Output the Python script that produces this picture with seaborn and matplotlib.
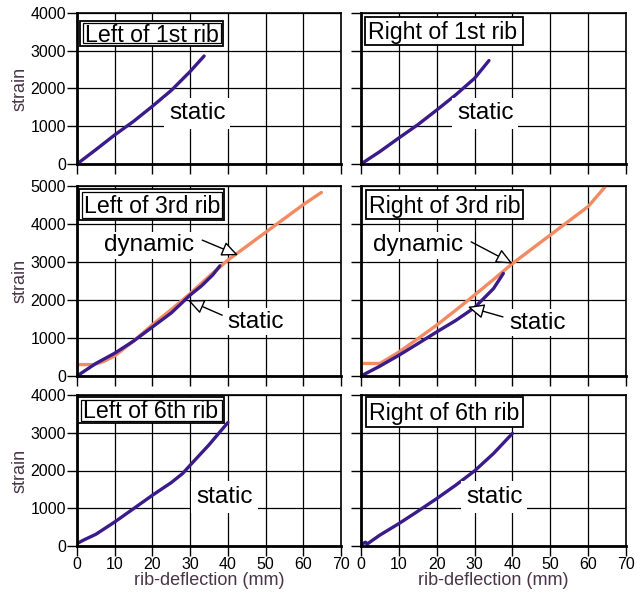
import numpy as np
import pandas as pd
import matplotlib
matplotlib.use("Agg")
import matplotlib.pyplot as plt
from matplotlib.patches import Rectangle
import seaborn as sns

# ---- data (rib-deflection mm, strain) ----
tl_x = [0, 5, 10, 15, 20, 25, 30, 33.7]
tl_y = [0, 380, 770, 1130, 1530, 1950, 2450, 2860]

tr_x = [0, 5, 10, 15, 20, 25, 30, 33.8]
tr_y = [0, 330, 690, 1040, 1430, 1830, 2270, 2740]

ml_static_x = [0, 5, 10, 15, 20, 25, 30, 33, 36, 37.9]
ml_static_y = [0, 330, 600, 920, 1290, 1660, 2130, 2370, 2660, 2900]
ml_dyn_x = [0, 4.5, 7, 10, 15, 20, 25, 30, 35, 40, 50, 60, 64.8]
ml_dyn_y = [300, 300, 380, 530, 920, 1350, 1750, 2170, 2620, 3050, 3780, 4510, 4830]

mr_static_x = [0, 5, 10, 15, 20, 25, 30, 35, 37.6]
mr_static_y = [0, 260, 545, 850, 1160, 1460, 1800, 2300, 2700]
mr_dyn_x = [0, 5, 10, 15, 20, 25, 30, 35, 40, 50, 60, 64.5]
mr_dyn_y = [330, 330, 630, 980, 1340, 1730, 2130, 2540, 2960, 3710, 4460, 4980]

bl_x = [0, 1.8, 0, 5, 10, 15, 20, 25, 28, 30, 35, 40]
bl_y = [130, 160, 0, 310, 637, 990, 1345, 1680, 1920, 2140, 2680, 3270]

br_x = [0, 1.2, 1.6, 0, 5, 10, 15, 20, 25, 30, 35, 40]
br_y = [80, 100, 50, 0, 290, 593, 920, 1256, 1610, 1990, 2450, 2982]

titles = ["Left of 1st rib", "Right of 1st rib",
          "Left of 3rd rib", "Right of 3rd rib",
          "Left of 6th rib", "Right of 6th rib"]

sns.set_style("ticks")
plt.rcParams['font.family'] = ['Liberation Sans', 'DejaVu Sans']
plt.rcParams['text.color'] = 'black'

purple = "#3b1a8a"
orange = "#f28b62"
label_col = "#4a3548"

W, H = 643, 596
fig = plt.figure(figsize=(W / 100, H / 100), dpi=100)

cols = [(77, 341), (361, 626)]
rows = [(13, 164, 4000), (186, 376, 5000), (395, 546, 4000)]

axes = []
geo = []
for r, (top, bot, ymax) in enumerate(rows):
    for c, (left, right) in enumerate(cols):
        ax = fig.add_axes([left / W, 1 - bot / H, (right - left) / W, (bot - top) / H])
        geo.append((left, top, right - left, bot - top))
        ax.set_xlim(0, 70)
        ax.set_ylim(0, ymax)
        ax.set_xticks(range(0, 71, 10))
        ax.set_yticks(range(0, ymax + 1, 1000))
        ax.grid(True, color="black", linewidth=0.9)
        for s in ax.spines.values():
            s.set_color("black")
            s.set_linewidth(1.2)
        ax.spines['bottom'].set_linewidth(2)
        ax.spines['left'].set_linewidth(2)
        ax.tick_params(direction="out", length=7, width=1, colors="black",
                       labelsize=11.5, pad=1)
        if c == 1:
            ax.set_yticklabels([])
        if r < 2:
            ax.set_xticklabels([])
        else:
            ax.set_xlabel("rib-deflection (mm)", fontsize=13, color=label_col, labelpad=0)
        if c == 0:
            ax.set_ylabel("strain", fontsize=13, color=label_col, labelpad=1)
        axes.append(ax)

static_sets = [(tl_x, tl_y), (tr_x, tr_y), (ml_static_x, ml_static_y),
               (mr_static_x, mr_static_y), (bl_x, bl_y), (br_x, br_y)]

# dynamic curves first (static drawn on top)
sns.lineplot(x=ml_dyn_x, y=ml_dyn_y, ax=axes[2], color=orange, linewidth=2.4, sort=False)
sns.lineplot(x=mr_dyn_x, y=mr_dyn_y, ax=axes[3], color=orange, linewidth=2.4, sort=False)
for ax, (xs, ys) in zip(axes, static_sets):
    sns.lineplot(x=xs, y=ys, ax=ax, color=purple, linewidth=2.4, sort=False)
    ax.set_xlim(0, 70)

# title boxes, in figure pixels (x0, y0, x1, y1), top-down
title_boxes = [(80, 21, 223, 46), (365, 17, 523, 45),
               (79, 189, 224, 220), (366, 190, 523, 219),
               (78, 397, 224, 423), (366, 397, 523, 427)]


def to_axes(g, x, y):
    left, top, w, h = g
    return (x - left) / w, 1 - (y - top) / h


for k, (ax, g, t, (x0, y0, x1, y1)) in enumerate(zip(axes, geo, titles, title_boxes)):
    insets = [0, 2.5] if k % 2 == 0 else [0]
    for j, d in enumerate(insets):
        ax0, ay1 = to_axes(g, x0 + d, y0 + d)
        ax1, ay0 = to_axes(g, x1 - d, y1 - d)
        ax.add_patch(Rectangle((ax0, ay0), ax1 - ax0, ay1 - ay0, transform=ax.transAxes,
                               fc="white", ec="black", lw=1.3 if j == 0 else 0.9,
                               zorder=5 + j, clip_on=False))
    tx, ty = to_axes(g, x0 + (5 if k % 2 == 0 else 3), (y0 + y1) / 2 + 8.3)
    ax.text(tx, ty, t, transform=ax.transAxes, fontsize=16.7, ha="left", va="baseline",
            zorder=8)

# "static" labels for rows 1 and 3
static_pos = {0: (31.9, 1340), 1: (32.8, 1340), 4: (39.1, 1300), 5: (35.2, 1300)}
for i, (sx, sy) in static_pos.items():
    axes[i].text(sx, sy, "static", fontsize=17.5, ha="center", va="center", zorder=4,
                 bbox=dict(boxstyle="square,pad=0.2", fc="white", ec="none"))

arrow = dict(arrowstyle="-|>,head_length=1.0,head_width=0.45", fc="white", ec="black",
             lw=1, shrinkA=0, shrinkB=0)
# middle row: labels and arrows (tail -> head)
labels_mid = [(2, "dynamic", (19, 3445)), (2, "static", (47.3, 1424)),
              (3, "dynamic", (15.1, 3445)), (3, "static", (46.7, 1400))]
arrows_mid = [(2, (33.2, 3576), (42.7, 3180)), (2, (38.5, 1600), (29.4, 1995)),
              (3, (29.1, 3530), (40.0, 2960)), (3, (37.5, 1555), (28.2, 1820))]
for i, t, (tx, ty) in labels_mid:
    axes[i].text(tx, ty, t, fontsize=17.5, ha="center", va="center", zorder=6,
                 bbox=dict(boxstyle="square,pad=0.1", fc="white", ec="none"))
for i, tail, head in arrows_mid:
    axes[i].annotate("", xy=head, xytext=tail, zorder=7, arrowprops=arrow)

fig.savefig("out.png", dpi=100)
